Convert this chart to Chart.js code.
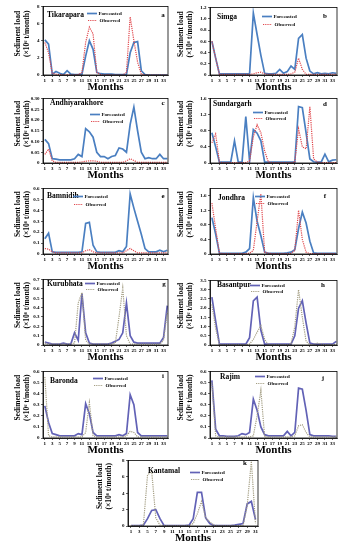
<!DOCTYPE html>
<html>
<head>
<meta charset="utf-8">
<script src="https://cdn.jsdelivr.net/npm/chart.js@4.4.1/dist/chart.umd.min.js"></script>
<style>
  html, body { margin: 0; padding: 0; background: #fff; }
  body { width: 339px; height: 550px; position: relative; overflow: hidden; }
  canvas { position: absolute; }
</style>
</head>
<body>
<script>
// months on the x axis
const months = [1,2,3,4,5,6,7,8,9,10,11,12,13,14,15,16,17,18,19,20,21,22,23,24,25,26,27,28,29,30,31,32,33,34];
const kantamalMonths = [1,2,3,4,5,6,7,8,9,10,11,12,13,14,15,16,17,18,19,20,21,22,23,24,25,26,27,28,29,30,31];
const monthTicks = [1,3,5,7,9,11,13,15,17,19,21,23,25,27,29,31,33];
const kantamalTicks = [1,3,5,7,9,11,13,15,17,19,21,23,25,27,29,31];

// sediment load (x10^6 t/month)
const tikaraparaForecast = [4.1,3.6,0.1,0.4,0.2,0.05,0.5,0.1,0.05,0.05,0.1,2.2,4.0,3.0,0.3,0.15,0.1,0.1,0.1,0.05,0.05,0.05,0.05,2.6,3.8,3.9,0.5,0.05,0,0,0,0,0,0];
const tikaraparaObserved = [3.8,2.6,0.2,0.1,0.05,0,0.05,0,0,0.05,0.3,3.8,5.6,4.8,0.3,0.05,0,0.05,0,0,0,0,0.3,6.8,4.0,1.5,0.1,0,0,0,0,0,0,0];

const simgaForecast = [0.6,0.3,0.02,0.02,0.02,0.02,0.02,0.02,0.02,0.02,0.02,1.1,0.72,0.35,0.03,0.02,0.02,0.03,0.1,0.03,0.06,0.16,0.1,0.65,0.72,0.3,0.07,0.02,0.04,0.02,0.03,0.02,0.04,0.03];
const simgaObserved = [0.6,0.3,0.01,0.01,0.01,0.01,0.01,0.01,0.01,0.01,0.01,0.02,0.04,0.05,0.02,0.01,0.01,0.01,0.01,0.01,0.01,0.02,0.05,0.3,0.1,0.01,0.01,0.01,0.01,0.01,0.01,0.01,0.01,0.01];

const andhiyarakhoreForecast = [0.11,0.09,0.02,0.018,0.015,0.015,0.015,0.015,0.02,0.04,0.03,0.16,0.145,0.12,0.05,0.03,0.03,0.02,0.03,0.035,0.07,0.065,0.05,0.18,0.26,0.15,0.05,0.02,0.025,0.02,0.02,0.04,0.02,0.02];
const andhiyarakhoreObserved = [0.04,0.065,0.01,0.003,0.003,0.003,0.003,0.003,0.003,0.003,0.005,0.008,0.01,0.01,0.008,0.003,0.003,0.003,0.003,0.003,0.003,0.003,0.01,0.02,0.012,0.003,0.003,0.003,0.003,0.003,0.003,0.003,0.003,0.003];

const sundargarhForecast = [0.75,0.4,0.02,0.02,0.02,0.02,0.55,0.02,0.02,1.15,0.05,0.83,0.74,0.55,0.02,0.02,0.02,0.02,0.02,0.02,0.02,0.02,0.02,1.4,1.37,0.75,0.1,0.03,0.02,0.02,0.22,0.03,0.07,0.08];
const sundargarhObserved = [0.5,0.72,0.02,0.01,0.01,0.01,0.01,0.01,0.01,0.01,0.05,0.65,0.95,0.75,0.3,0.02,0.01,0.01,0.01,0.01,0.01,0.01,0.02,0.85,0.4,0.35,1.4,0.1,0.02,0.01,0.01,0.01,0.01,0.01];

const bamnidihForecast = [0.14,0.19,0.02,0.015,0.015,0.015,0.015,0.015,0.015,0.015,0.02,0.28,0.29,0.08,0.02,0.015,0.015,0.015,0.015,0.015,0.03,0.02,0.07,0.55,0.42,0.3,0.18,0.05,0.02,0.02,0.02,0.035,0.02,0.035];
const bamnidihObserved = [0.05,0.045,0.02,0.01,0.01,0.01,0.01,0.01,0.01,0.01,0.01,0.03,0.04,0.02,0.01,0.01,0.01,0.01,0.01,0.01,0.01,0.01,0.03,0.05,0.03,0.01,0.01,0.01,0.01,0.01,0.01,0.01,0.01,0.01];

const jondhraForecast = [1.0,0.55,0.02,0.02,0.02,0.02,0.02,0.02,0.02,0.05,0.15,1.55,0.9,0.5,0.05,0.02,0.02,0.02,0.02,0.02,0.03,0.05,0.12,0.7,1.15,0.85,0.35,0.03,0.02,0.02,0.02,0.02,0.02,0.02];
const jondhraObserved = [1.4,0.7,0.02,0.01,0.01,0.01,0.01,0.01,0.01,0.01,0.02,0.1,0.9,1.65,0.05,0.02,0.01,0.01,0.01,0.01,0.01,0.02,0.1,1.2,0.4,0.05,0.01,0.01,0.01,0.01,0.01,0.01,0.01,0.01];

const kurubhataForecast = [0.03,0.02,0.01,0.01,0.01,0.02,0.01,0.01,0.13,0.05,0.55,0.13,0.02,0.01,0.01,0.01,0.01,0.01,0.02,0.04,0.06,0.13,0.45,0.1,0.03,0.02,0.02,0.02,0.02,0.02,0.02,0.02,0.08,0.42];
const kurubhataObserved = [0.02,0.01,0.01,0.01,0.01,0.01,0.01,0.01,0.02,0.45,0.56,0.05,0.01,0.01,0.01,0.01,0.01,0.01,0.01,0.02,0.3,0.61,0.1,0.01,0.01,0.01,0.01,0.01,0.01,0.01,0.01,0.01,0.05,0.35];

const basantpurForecast = [2.6,1.3,0.05,0.05,0.05,0.05,0.05,0.05,0.05,0.05,0.4,2.4,2.6,0.8,0.05,0.05,0.05,0.05,0.05,0.05,0.05,0.05,0.5,2.0,2.4,1.2,0.1,0.05,0.05,0.05,0.05,0.05,0.05,0.2];
const basantpurObserved = [2.2,0.9,0.02,0.02,0.02,0.02,0.02,0.02,0.02,0.02,0.05,0.3,0.7,1.05,0.3,0.02,0.02,0.02,0.02,0.02,0.02,0.05,1.0,3.0,1.5,0.2,0.02,0.02,0.1,0.05,0.02,0.02,0.02,0.02];

const barondaForecast = [0.29,0.14,0.04,0.03,0.02,0.02,0.02,0.02,0.02,0.04,0.03,0.31,0.22,0.05,0.02,0.02,0.02,0.02,0.02,0.02,0.03,0.02,0.04,0.39,0.3,0.05,0.02,0.02,0.02,0.02,0.02,0.02,0.02,0.02];
const barondaObserved = [0.55,0.02,0.01,0.01,0.01,0.01,0.01,0.01,0.01,0.01,0.01,0.05,0.32,0.02,0.01,0.01,0.01,0.01,0.01,0.01,0.01,0.01,0.02,0.06,0.05,0.01,0.01,0.01,0.01,0.01,0.01,0.01,0.01,0.01];

const rajimForecast = [0.52,0.08,0.02,0.02,0.015,0.015,0.015,0.02,0.04,0.03,0.05,0.35,0.25,0.1,0.03,0.02,0.02,0.02,0.02,0.02,0.06,0.02,0.05,0.45,0.44,0.25,0.03,0.02,0.02,0.02,0.02,0.02,0.015,0.015];
const rajimObserved = [0.5,0.02,0.01,0.01,0.01,0.01,0.01,0.01,0.01,0.01,0.01,0.02,0.2,0.43,0.01,0.01,0.01,0.01,0.01,0.01,0.01,0.01,0.02,0.11,0.12,0.05,0.01,0.01,0.01,0.01,0.01,0.01,0.01,0.01];

const kantamalForecast = [0.05,0.05,0.05,0.1,0.9,1.9,2.0,0.9,0.05,0.05,0.05,0.05,0.05,0.05,0.1,0.9,4.1,4.1,1.0,0.3,0.05,0.05,0.05,0.05,0.05,0.1,0.2,0.3,2.7,3.0,0.8];
const kantamalObserved = [0.05,0.05,0.05,0.1,6.2,6.7,1.0,0.1,0.05,0.05,0.05,0.05,0.05,0.05,0.05,0.3,1.5,3.0,1.0,0.5,0.1,0.05,0.05,0.05,0.05,0.05,0.05,0.05,2.5,7.9,0.3];

const serif = "'Liberation Serif', 'Times New Roman', serif";
const blues = { f: '#4a7fc1', o: '#e0474c' };
const purples = { f: '#6262b6', o: '#a39d82' };

// column geometry: canvas left, canvas width, y-axis width, y title offsets
const leftCol = { left: 0, width: 170, axisW: 43, titleX: [-25, -16] };
const rightCol = { left: 168, width: 171, axisW: 42, titleX: [-29, -20] };
const bottomCol = { left: 86, width: 174, axisW: 42, titleX: [-28, -19] };

const panels = [
  { id: 'a', name: 'Tikarapara', col: leftCol, top: 5, bottom: 75, f: tikaraparaForecast, o: tikaraparaObserved, yMax: 8, yStep: 2, pal: blues, nameAt: [4, 9], legAt: [44, 7, 14], letAt: [-5, 9] },
  { id: 'b', name: 'Simga', col: rightCol, top: 6, bottom: 75, f: simgaForecast, o: simgaObserved, yMax: 1.2, yStep: 0.2, pal: blues, nameAt: [7, 10], legAt: [52, 9, 17], letAt: [-12, 9] },
  { id: 'c', name: 'Andhiyarakhore', col: leftCol, top: 97, bottom: 163, f: andhiyarakhoreForecast, o: andhiyarakhoreObserved, yMax: 0.3, yStep: 0.05, pal: blues, nameAt: [7, 5], legAt: [47, 16, 23], letAt: [-5, 5] },
  { id: 'd', name: 'Sundargarh', col: rightCol, top: 97, bottom: 163, f: sundargarhForecast, o: sundargarhObserved, yMax: 1.6, yStep: 0.2, pal: blues, nameAt: [3, 6], legAt: [43, 14, 20], letAt: [-12, 6] },
  { id: 'e', name: 'Bamnidih', col: leftCol, top: 187, bottom: 254, f: bamnidihForecast, o: bamnidihObserved, yMax: 0.6, yStep: 0.1, pal: blues, nameAt: [4, 8], legAt: [30, 8, 16], letAt: [-5, 8] },
  { id: 'f', name: 'Jondhra', col: rightCol, top: 187, bottom: 254, f: jondhraForecast, o: jondhraObserved, yMax: 1.8, yStep: 0.2, pal: blues, nameAt: [8, 10], legAt: [45, 8, 15], letAt: [-12, 8] },
  { id: 'g', name: 'Kurubhata', col: leftCol, top: 278, bottom: 345, f: kurubhataForecast, o: kurubhataObserved, yMax: 0.7, yStep: 0.1, pal: purples, nameAt: [4, 5], legAt: [42, 4, 10], letAt: [-4, 5] },
  { id: 'h', name: 'Basantpur', col: rightCol, top: 279, bottom: 345, f: basantpurForecast, o: basantpurObserved, yMax: 3.5, yStep: 0.5, pal: purples, nameAt: [7, 5], legAt: [40, 5, 11], letAt: [-14, 5] },
  { id: 'i', name: 'Baronda', col: leftCol, top: 370, bottom: 438, f: barondaForecast, o: barondaObserved, yMax: 0.6, yStep: 0.1, pal: purples, nameAt: [7, 10], legAt: [50, 7, 14], letAt: [-5, 5] },
  { id: 'j', name: 'Rajim', col: rightCol, top: 370, bottom: 438, f: rajimForecast, o: rajimObserved, yMax: 0.6, yStep: 0.1, pal: purples, nameAt: [10, 6], legAt: [45, 5, 12], letAt: [-14, 7] },
  { id: 'k', name: 'Kantamal', col: bottomCol, top: 459, bottom: 526, f: kantamalForecast, o: kantamalObserved, yMax: 8, yStep: 1, pal: purples, nameAt: [20, 11], legAt: [62, 12, 19], letAt: [-13, 3], months: kantamalMonths, ticks: kantamalTicks, xMin: 0.3, xMax: 31.6 }
];

// frame, y title, station name, letter and legend drawn inside each panel
function decor(p) {
  return {
    id: 'decor' + p.id,
    afterDraw(chart) {
      const ctx = chart.ctx;
      const a = chart.chartArea;
      ctx.save();
      ctx.strokeStyle = '#000';
      ctx.lineWidth = 0.8;
      ctx.strokeRect(a.left, a.top, a.right - a.left, a.bottom - a.top);

      ctx.fillStyle = '#000';
      ctx.textAlign = 'center';
      ctx.textBaseline = 'middle';
      ctx.font = 'bold 7.5px ' + serif;
      const cy = (a.top + a.bottom) / 2 - 7;
      [['Sediment load', p.col.titleX[0]], ['(×10⁶ t/month)', p.col.titleX[1]]].forEach(([t, dx]) => {
        ctx.save();
        ctx.translate(a.left + dx, cy);
        ctx.rotate(-Math.PI / 2);
        ctx.fillText(t, 0, 0);
        ctx.restore();
      });

      ctx.font = 'bold 7.5px ' + serif;
      ctx.textAlign = 'left';
      ctx.fillText(p.name, a.left + p.nameAt[0], a.top + p.nameAt[1]);
      ctx.textAlign = 'center';
      ctx.font = 'bold 7px ' + serif;
      ctx.fillText(p.id, a.right + p.letAt[0], a.top + p.letAt[1]);

      // legend
      const lx = a.left + p.legAt[0];
      ctx.font = 'bold 5px ' + serif;
      ctx.textAlign = 'left';
      ctx.lineWidth = 1.7;
      ctx.strokeStyle = p.pal.f;
      ctx.beginPath();
      ctx.moveTo(lx, a.top + p.legAt[1]);
      ctx.lineTo(lx + 10, a.top + p.legAt[1]);
      ctx.stroke();
      ctx.fillText('Forecasted', lx + 11.5, a.top + p.legAt[1]);
      ctx.lineWidth = 1.2;
      ctx.setLineDash([1.2, 1]);
      ctx.strokeStyle = p.pal.o;
      ctx.beginPath();
      ctx.moveTo(lx + 1, a.top + p.legAt[2]);
      ctx.lineTo(lx + 10, a.top + p.legAt[2]);
      ctx.stroke();
      ctx.setLineDash([]);
      ctx.fillText('Observed', lx + 12.5, a.top + p.legAt[2]);
      ctx.restore();
    }
  };
}

panels.forEach((p) => {
  const padTop = 3, xAxisH = 18;
  const canvas = document.createElement('canvas');
  canvas.width = p.col.width;
  canvas.height = padTop + (p.bottom - p.top) + xAxisH;
  canvas.style.left = p.col.left + 'px';
  canvas.style.top = (p.top - padTop) + 'px';
  document.body.appendChild(canvas);

  const tickFont = { family: serif, size: 5, weight: 'bold' };
  const xTicks = p.ticks || monthTicks;

  new Chart(canvas, {
    type: 'line',
    data: {
      labels: p.months || months,
      datasets: [
        { label: 'Forecasted', data: p.f, borderColor: p.pal.f, borderWidth: 1.7, pointRadius: 0, tension: 0, order: 1 },
        { label: 'Observed', data: p.o, borderColor: p.pal.o, borderWidth: 1.2, borderDash: [1.2, 1], pointRadius: 0, tension: 0, order: 0 }
      ]
    },
    options: {
      responsive: false,
      animation: false,
      layout: { padding: { top: padTop, right: 2, left: 0, bottom: 0 } },
      plugins: { legend: { display: false }, tooltip: { enabled: false } },
      scales: {
        x: {
          type: 'linear',
          min: p.xMin || 0.5,
          max: p.xMax || 34.2,
          afterBuildTicks: (s) => { s.ticks = xTicks.map((v) => ({ value: v })); },
          afterFit: (s) => { s.height = xAxisH; },
          ticks: { font: tickFont, color: '#000', padding: 1, maxRotation: 0, autoSkip: false },
          grid: { drawOnChartArea: false, tickLength: 2, color: '#000', lineWidth: 0.6 },
          border: { color: '#000', width: 0.8 },
          title: { display: true, text: 'Months', color: '#000', padding: 0, font: { family: serif, size: 11, weight: 'bold', lineHeight: 1 } }
        },
        y: {
          min: 0,
          max: p.yMax,
          afterFit: (s) => { s.width = p.col.axisW; },
          ticks: { stepSize: p.yStep, font: tickFont, color: '#000', padding: 1.5 },
          grid: { drawOnChartArea: false, tickLength: 2, color: '#000', lineWidth: 0.6 },
          border: { color: '#000', width: 0.8 }
        }
      }
    },
    plugins: [decor(p)]
  });
});
</script>
</body>
</html>
